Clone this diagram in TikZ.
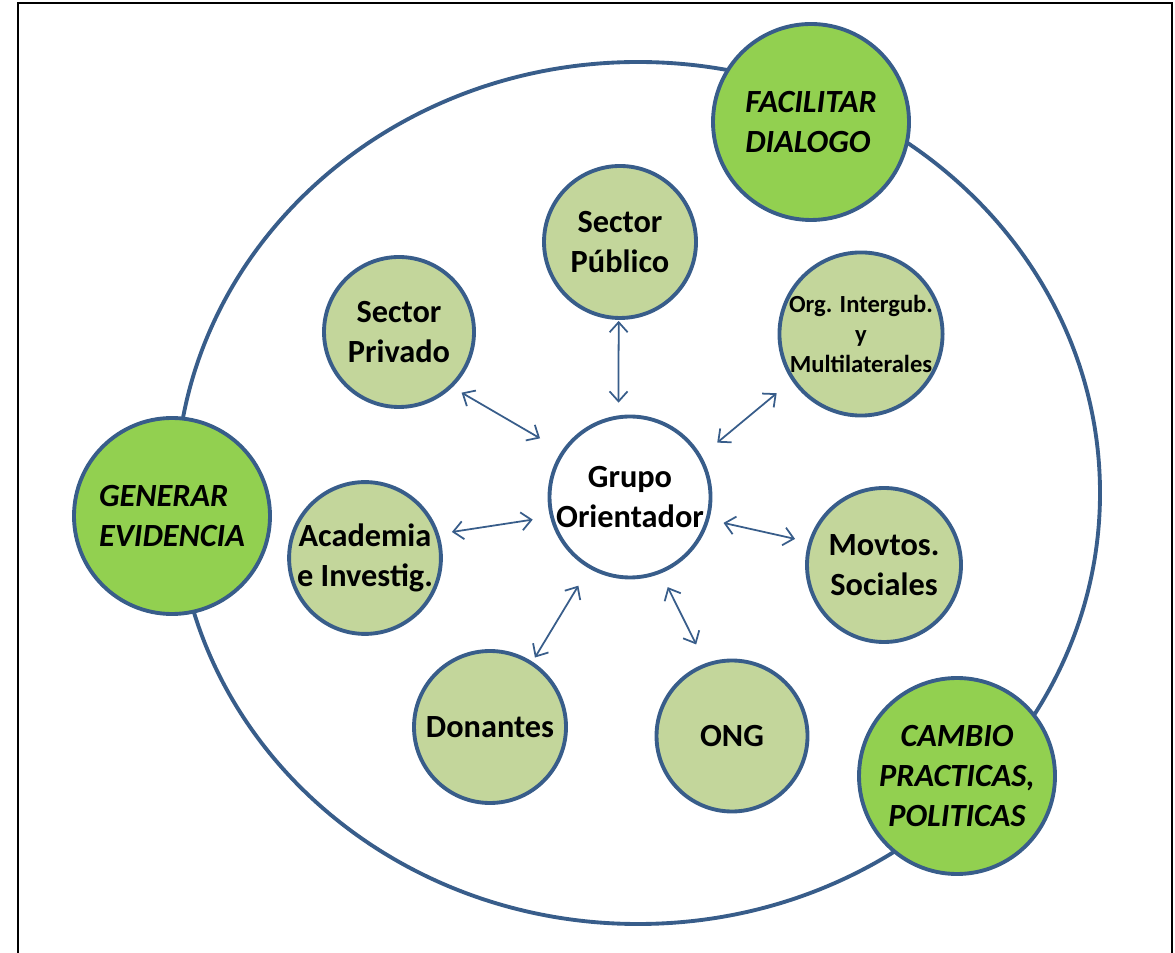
\documentclass[tikz,border=0pt]{standalone}
\usepackage{fontspec}
\setmainfont{Carlito}
\usetikzlibrary{arrows.meta}

\definecolor{outline}{HTML}{385D8A}
\definecolor{olivefill}{HTML}{C3D69B}
\definecolor{limefill}{HTML}{92D050}

\tikzset{
  actor/.style={circle, draw=outline, fill=olivefill, line width=1.1pt, inner sep=0pt,
    minimum size=15.2mm, align=center, font=\bfseries\fontsize{9.2}{11.4}\selectfont},
  goal/.style={circle, draw=outline, fill=limefill, line width=1.1pt, inner sep=0pt,
    minimum size=19.6mm, font=\bfseries\itshape\fontsize{9.2}{11.4}\selectfont},
  link/.style={draw=outline, line width=0.5pt,
    {Straight Barb[length=1mm,width=1.8mm]}-{Straight Barb[length=1mm,width=1.8mm]}},
}

\begin{document}
\begin{tikzpicture}[x=0.1mm, y=-0.1mm]
    \useasboundingbox (0,0) rectangle (1175,953);
    \draw[line width=0.6pt] (18,960) -- (18,3) -- (1172,3) -- (1172,960);

    \draw[outline, line width=1.1pt] (638,493) ellipse [x radius=46.2mm, y radius=43.1mm];

    \node[goal, align=left] (dialogo) at (811,122) {FACILITAR\\DIALOGO};
    \node[goal, align=left] (evidencia) at (172,516) {GENERAR\\EVIDENCIA};
    \node[goal, align=center] (cambio) at (957,776) {CAMBIO\\PRACTICAS,\\POLITICAS};

    \node[actor, fill=white, minimum size=16.1mm] (grupo) at (630,497) {Grupo\\Orientador};
    \node[actor] (publico) at (620,242) {Sector\\Público};
    \node[actor, minimum size=15mm] (privado) at (399,332) {Sector\\Privado};
    \node[actor, minimum size=16mm, font=\bfseries\fontsize{7}{8.6}\selectfont] (org) at (861,334) {Org. Intergub.\\y\\Multilaterales};
    \node[actor, minimum size=15.4mm] (movtos) at (884,565) {Movtos.\\Sociales};
    \node[actor, minimum size=15mm] (academia) at (365,558) {Academia\\e Investig.};
    \node[actor] (donantes) at (490,727) {Donantes};
    \node[actor, minimum size=15.1mm] (ong) at (732,736) {ONG};

    \draw[link, shorten <=0.1mm, shorten >=1.27mm] (publico.-91) -- (grupo.98);
    \draw[link, shorten <=1.06mm, shorten >=2.5mm] (privado.-46) -- (grupo.146);
    \draw[link, shorten <=1.97mm, shorten >=2.06mm] (org.214) -- (grupo.30);
    \draw[link, shorten <=1.3mm, shorten >=1.75mm] (academia.18) -- (grupo.194);
    \draw[link, shorten <=1.38mm, shorten >=1.46mm] (movtos.163) -- (grupo.-16);
    \draw[link, shorten <=0.48mm, shorten >=2.02mm] (donantes.57) -- (grupo.240);
    \draw[link, shorten <=2.1mm, shorten >=1.53mm] (ong.110) -- (grupo.-68);
\end{tikzpicture}
\end{document}
